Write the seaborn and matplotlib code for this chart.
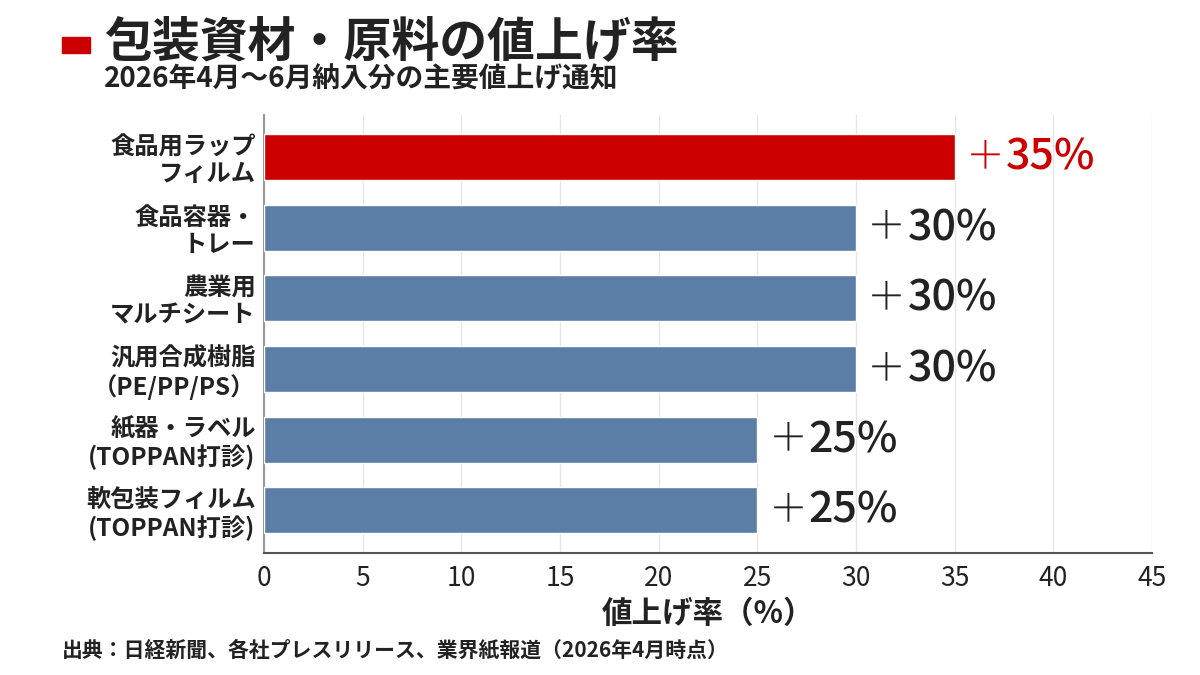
import numpy as np
import pandas as pd
import seaborn as sns
from matplotlib import pyplot as plt
from matplotlib.patches import Rectangle

# dane
categories = ['食品用ラップ\nフィルム', '食品容器・\nトレー', '農業用\nマルチシート',
              '汎用合成樹脂\n（PE/PP/PS）', '紙器・ラベル\n(TOPPAN打診)', '軟包装フィルム\n(TOPPAN打診)']
rates = [35, 30, 30, 30, 25, 25]
rate_labels = ['35%', '30%', '30%', '30%', '25%', '25%']
xticks = [0, 5, 10, 15, 20, 25, 30, 35, 40, 45]

RED = '#CC0000'
BLUE = '#5B7DA6'
colors = [RED] + [BLUE] * 5

sns.set_style('white')
plt.rcParams['font.family'] = ['Noto Sans CJK JP', 'DejaVu Sans']

df = pd.DataFrame({'cat': categories, 'rate': rates})

fig = plt.figure(figsize=(12, 6.75), dpi=100)
ax = fig.add_axes([0.22, 0.181, 0.74, 0.649])

sns.barplot(data=df, x='rate', y='cat', hue='cat', palette=colors,
            legend=False, width=0.65, saturation=1, ax=ax, zorder=3)

ax.set_xlim(0, 45)
ax.set_ylim(5.6, -0.6)
ax.set_xticks(xticks)
ax.set_xticklabels([str(t) for t in xticks], fontsize=19, color='#222222')
ax.grid(axis='x', color='#e6e6e6', linewidth=1, zorder=0)
ax.set_axisbelow(True)

for s in ['top', 'right']:
    ax.spines[s].set_visible(False)
ax.spines['left'].set_color('#999999')
ax.spines['left'].set_linewidth(1.5)
ax.spines['bottom'].set_color('#555555')
ax.spines['bottom'].set_linewidth(1.5)
ax.tick_params(axis='y', length=4, color='#999999', labelsize=17.5, pad=2)
ax.tick_params(axis='x', length=4, color='#555555', pad=5)
for lab in ax.get_yticklabels():
    lab.set_fontweight('bold')
    lab.set_color('#222222')
    lab.set_linespacing(1.15)

ax.set_ylabel('')
ax.set_xlabel('値上げ率（%）', fontsize=22, fontweight='bold', color='#222222', labelpad=4)

# ＋ は細字、数字は中太
for i, (v, t) in enumerate(zip(rates, rate_labels)):
    c = RED if i == 0 else '#222222'
    ax.annotate('＋', (v, i), xytext=(8, 0), textcoords='offset points',
                va='center', ha='left', fontsize=28, color=c, fontweight='light')
    ax.annotate(t, (v, i), xytext=(37, 0), textcoords='offset points',
                va='center', ha='left', fontsize=31, color=c, fontweight='medium')

# タイトル
fig.patches.append(Rectangle((62 / 1200, 1 - 53 / 675), 28 / 1200, 16 / 675,
                             transform=fig.transFigure, color=RED))
fig.text(104 / 1200, 1 - 42 / 675, '包装資材・原料の値上げ率', fontsize=34.5,
         fontweight='bold', va='center', ha='left', color='#222222')
fig.text(104 / 1200, 1 - 79 / 675, '2026年4月～6月納入分の主要値上げ通知', fontsize=20,
         fontweight='bold', va='center', ha='left', color='#222222')
fig.text(62 / 1200, 1 - 650 / 675, '出典：日経新聞、各社プレスリリース、業界紙報道（2026年4月時点）',
         fontsize=15, fontweight='bold', va='center', ha='left', color='#222222')

fig.savefig('out.png', dpi=100)
